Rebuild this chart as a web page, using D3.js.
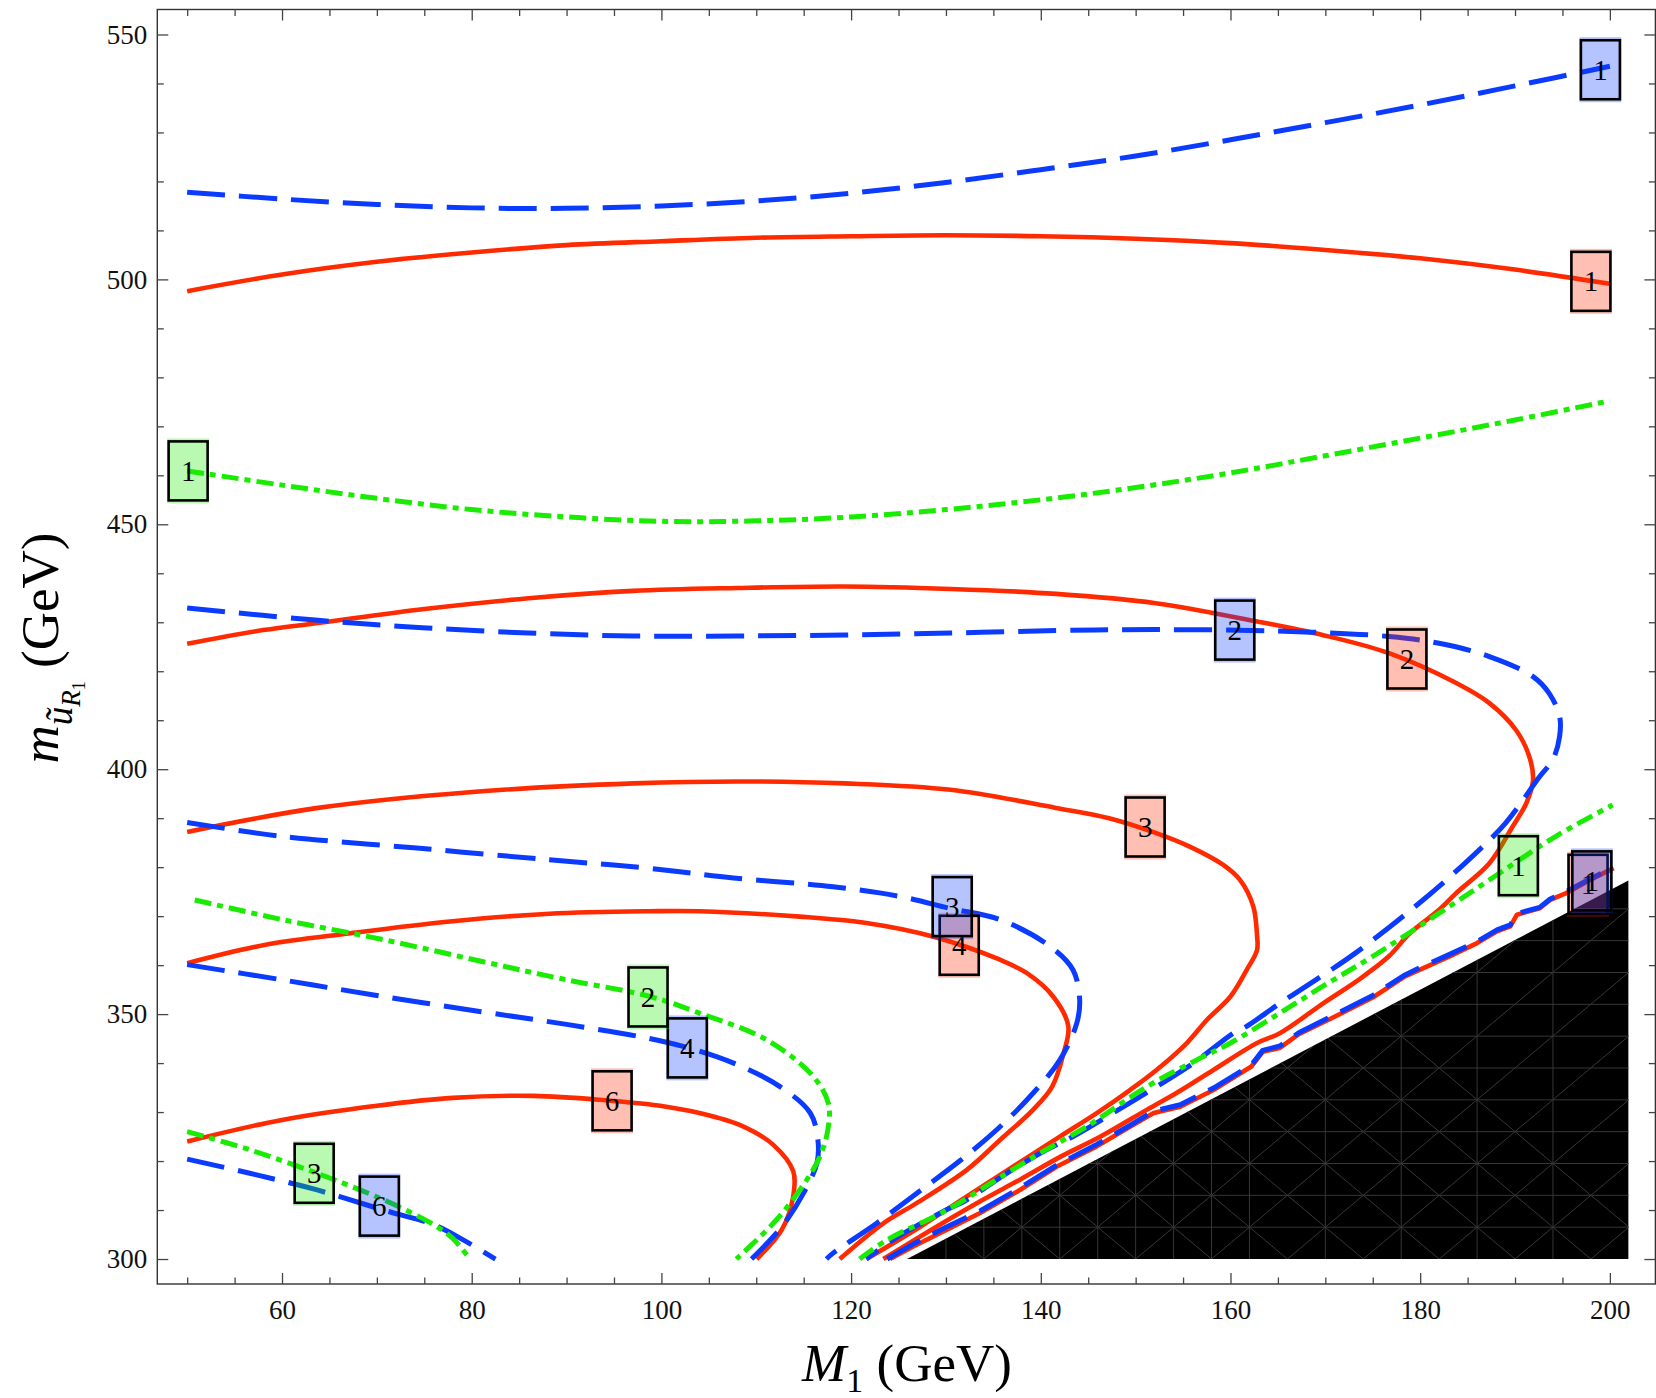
<!DOCTYPE html>
<html><head><meta charset="utf-8">
<script src="https://cdn.jsdelivr.net/npm/d3@7"></script>
<style>
body{margin:0;background:#fff;}
svg{display:block;}
text{font-family:"Liberation Serif","Times New Roman",serif;}
</style>
</head><body>
<svg id="chart" width="1656" height="1398"></svg>
<script>
// ---------- data (M1 [GeV], m_uR1 [GeV]) ----------
const xMajorTicks = [60,80,100,120,140,160,180,200];
const yMajorTicks = [300,350,400,450,500,550];

const red1Top = [[50,497.6],[60,501],[70,503.6],[80,505.5],[90,507],[100,507.8],[110,508.5],[120,508.8],[130,509],[140,508.8],[150,508.3],[160,507.4],[170,506],[180,504.3],[190,502],[200,499.1]];
const red1Low = [[124.1,300],[126.6,302.6],[130.1,306],[133.6,309.4],[137.8,314.1],[141.7,318.9],[145.9,323],[149.4,327],[151.9,329.8],[154.7,331.1],[158.2,334.5],[162.2,339.3],[163.4,342.3],[165.2,343.1],[167.2,345.9],[170.6,349.1],[175,353.4],[178.4,357.7],[180.1,359.2],[183.1,361.8],[186,364.5],[188.1,366.9],[189.5,367.9],[190.2,370.3],[192.6,371.6],[193.7,373.3],[195.4,374.7],[197.9,377.4],[200.4,379.8]];
const red2 = [[50,425.6],[58,428.4],[64,429.9],[75,432.7],[86,434.9],[97,436.4],[108,437],[119.3,437.3],[130.5,436.8],[141.6,435.8],[152.1,433.9],[162.7,430.2],[169.7,427.4],[176.7,423.7],[183.8,417.6],[187.3,413.5],[190.1,408],[191.5,402.6],[191.9,397.8],[191.2,393.1],[189.75,388.3],[187.3,380.8],[183.8,374.7],[182,371.3],[178.9,366.5],[176.7,361.8],[173.5,357],[170,352.5],[165.2,346.1],[162.8,344.1],[158.2,338.6],[154.3,333.9],[151.2,330.5],[146.3,325],[142.1,320.9],[137.8,316.2],[133.9,312.1],[129,306.6],[123.4,300]];
const red3 = [[50,387.2],[63.8,392.1],[80.4,395.4],[97.1,397.1],[108.2,397.5],[119.3,397.1],[130.5,395.8],[141.6,392.1],[147.2,390],[152.1,387],[155.7,384.2],[159.2,380.5],[161,377.4],[162.4,372],[162.8,366],[162.8,363.1],[161.7,359],[160,353.6],[157.5,348.8],[155.4,344.1],[152.2,338.6],[149.4,334.5],[145.9,329.8],[142,325],[137.1,318.9],[132.2,312.8],[127.3,306.6],[121.6,300]];
const red4 = [[50,360.4],[58.4,364.2],[67.2,366.5],[77.7,368.9],[88.2,370.5],[98.8,371],[104,371],[114.6,369.9],[121.6,368.6],[128.7,365.8],[135.7,361.1],[138.5,358.4],[141.3,353.6],[142.9,347.5],[142.4,342],[141.2,335.2],[139.2,330.5],[135.7,324.3],[132.2,318.2],[126.9,311.4],[123.4,307.3],[118.8,300]];
const red6 = [[50,324.0],[60,328.4],[70,331.3],[78,332.9],[86.5,333.3],[93.5,332.5],[100.5,331.1],[104,329.8],[108.6,327.1],[111.8,323.3],[113.9,317.9],[113.9,312.8],[112.7,306],[110.05,300]];

const blue1Top = [[50,517.8],[60,516.4],[70,515.3],[80,514.6],[90,514.5],[100,515],[110,516],[120,517.6],[130,519.8],[140,522.4],[150,525.2],[160,528.5],[170,532],[180,535.6],[190,539.5],[200,543.5]];
const blue1Low = [[123.8,300],[126.5,303],[130,306.5],[133.6,309.8],[137.8,314.5],[141.7,319.2],[145.9,323.4],[149.4,327.3],[151.9,330.2],[154.7,331.5],[158.2,334.9],[162.2,339.6],[163.4,342.6],[165.2,343.5],[167.2,346.2],[170.6,349.5],[175,353.8],[178.4,358],[180.1,359.6],[183.1,362.2],[186,364.8],[188.1,367.2],[189.5,368.2],[190.2,370.5],[192.6,371.8],[193.7,373.5],[195.4,375],[197.9,377.6],[200,379.6]];
const blue2 = [[50,432.9],[63.8,430.4],[74.8,428.9],[86,427.8],[97,427.2],[108,427.2],[119.3,427.4],[130.5,427.8],[141.6,428.3],[152,428.5],[165,428.2],[176.7,427.1],[182,425.7],[187.3,423],[191.9,418.9],[193.6,415.5],[194.7,410.8],[194.7,406.7],[194,402],[192.6,398.5],[189,389],[185.5,382.2],[180.3,373.3],[173.2,362.5],[169,357],[165.2,352.2],[161.7,347.5],[160.3,346.1],[156.1,340],[152.2,335.2],[147.6,329.8],[143.4,325],[140.6,322.3],[136.4,317.5],[132.2,312.1],[129.4,309.4],[124.4,303.9],[121.6,300]];
const blue3 = [[50,389.1],[60,386.3],[74.2,383.9],[88.2,381.5],[98,379.9],[107.6,377.8],[118.1,376],[125.2,374],[130.4,371.6],[135.7,369.3],[141,363.8],[143.4,359],[144.1,352.9],[143.8,348.2],[142,340.6],[139.2,333.9],[135.7,327],[131.5,320.1],[126.9,313.4],[122.7,307.3],[118.1,301.2],[117.4,300]];
const blue4 = [[50,360.1],[60,357.0],[70,353.8],[81,350.5],[90,347.9],[98,345.3],[102.3,343.4],[107.6,340],[112.5,335.2],[115.7,329.8],[116.5,324.3],[116.4,319.6],[115,313.5],[112.7,306.6],[109.5,300]];
const blue6 = [[50,320.4],[56.6,317.5],[63.7,314.1],[70.7,310],[76,307],[79.1,303.9],[82.5,300]];

const green1Top = [[50,460.9],[60,458],[70,455.3],[80,453],[90,451.5],[100,450.6],[110,450.7],[120,451.5],[130,453],[140,455],[150,457.5],[160,460.5],[170,464],[180,467.6],[190,471.3],[200,475.2]];
const green1Low = [[120.9,300],[123.8,303.9],[130.1,310],[136.4,317.5],[139.9,321.6],[144.8,327],[151.2,335.2],[156.4,340.6],[160,344.1],[165.2,350.2],[170,356],[175,361.8],[182,370.6],[187.3,377.4],[194.3,386.3],[200.3,392.7]];
const green2 = [[50.8,373.3],[60,369.3],[70.7,365.2],[81.2,360.7],[90,357],[98.8,353.6],[104,350.2],[111.1,344.75],[116,337.3],[117.6,331.8],[117.6,327],[116.7,320.9],[114.6,314.1],[111.8,307.3],[107.9,300]];
const green3 = [[50,326],[56.6,322.3],[63.7,317.5],[70.7,312.1],[76,307],[78,304.2],[79.8,300]];

// excluded (black) region
const regionM1 = [125.9, 201.95, 201.95];
const regionM  = [300, 377.3, 300];

// contour labels
const labelM1   = [198.0, 151.0, 178.6, 131.4, 94.8, 197.7, 199.0, 160.45, 130.66, 102.73, 70.26, 198.1, 50.1, 98.59, 63.39, 190.35];
const labelM    = [499.6, 388.2, 422.5, 364.05, 332.3, 376.5, 542.8, 428.4, 371.95, 343.1, 310.8, 377.2, 460.9, 353.5, 317.5, 380.3];
const labelText = ["1","3","2","4","6","1","1","2","3","4","6","1","1","2","3","1"];
const labelKind = ["r","r","r","r","r","r","b","b","b","b","b","b","g","g","g","g"];

// ---------- styling ----------
const COL = {r:"#ff2a00", b:"#0b3bff", g:"#19ec00"};
const svg = d3.select("#chart");
const x = d3.scaleLinear().domain([46.85,204.8]).range([157.3,1655.4]);
const y = d3.scaleLinear().domain([294.9,555.1]).range([1284,9.5]);

svg.append("defs").append("clipPath").attr("id","plotclip")
  .append("rect").attr("x",x(46.85)).attr("y",y(555.1)).attr("width",x(204.8)-x(46.85)).attr("height",y(294.9)-y(555.1));
const regionPts = regionM1.map((v,i)=>[x(v),y(regionM[i])]);
svg.select("defs").append("clipPath").attr("id","regclip")
  .append("polygon").attr("points",regionPts.map(p=>p.join(",")).join(" "));

const plot = svg.append("g").attr("clip-path","url(#plotclip)");

// black region + faint mesh
plot.append("polygon").attr("points",regionPts.map(p=>p.join(",")).join(" ")).attr("fill","#000");
const mesh = plot.append("g").attr("clip-path","url(#regclip)").attr("stroke","#363636").attr("stroke-width",1).attr("fill","none");
const meshV = [130,134,138,142,146,150,154,158,162,170,178,186,194];
const meshH = [306.5,313,319.5,326,332.5,339,345.5,352,358.5,365,371.5];
meshV.forEach(v=>mesh.append("line").attr("x1",x(v)).attr("x2",x(v)).attr("y1",y(300)).attr("y2",y(380)));
meshH.forEach(v=>mesh.append("line").attr("x1",x(120)).attr("x2",x(203)).attr("y1",y(v)).attr("y2",y(v)));
d3.range(70,212,8).forEach(v=>{
  mesh.append("line").attr("x1",x(v)).attr("y1",y(300)).attr("x2",x(v+49.2)).attr("y2",y(380));
  mesh.append("line").attr("x1",x(v)).attr("y1",y(300)).attr("x2",x(v-49.2)).attr("y2",y(380));
});

// contour lines
const smooth = d3.line().x(d=>x(d[0])).y(d=>y(d[1])).curve(d3.curveCatmullRom.alpha(0.5));
const jagged = d3.line().x(d=>x(d[0])).y(d=>y(d[1]));
function draw(data,kind,gen){
  const p = plot.append("path").attr("d",(gen||smooth)(data)).attr("fill","none").attr("stroke",COL[kind]).attr("stroke-linejoin","round");
  if(kind==="r") p.attr("stroke-width",4.6);
  if(kind==="b") p.attr("stroke-width",5).attr("stroke-dasharray","38,14");
  if(kind==="g") p.attr("stroke-width",5).attr("stroke-dasharray","17,6,6,6");
}
draw(red1Top,"r"); draw(red1Low,"r",jagged); draw(red2,"r"); draw(red3,"r"); draw(red4,"r"); draw(red6,"r");
draw(blue1Top,"b"); draw(blue1Low,"b",jagged); draw(blue2,"b"); draw(blue3,"b"); draw(blue4,"b"); draw(blue6,"b");
draw(green1Top,"g"); draw(green1Low,"g"); draw(green2,"g"); draw(green3,"g");

// labels
const lab = svg.append("g");
labelM1.forEach((v,i)=>{
  const cx = x(v), cy = y(labelM[i]);
  const g = lab.append("g");
  g.append("rect").attr("x",cx-21).attr("y",cy-32.5).attr("width",42).attr("height",65)
    .attr("fill",COL[labelKind[i]]).attr("fill-opacity",0.3);
  g.append("rect").attr("x",cx-19.5).attr("y",cy-29.5).attr("width",39).attr("height",59)
    .attr("fill","none").attr("stroke","#000").attr("stroke-width",2.6);
  g.append("text").attr("x",cx).attr("y",cy).attr("dy","0.35em").attr("text-anchor","middle")
    .attr("font-size",29).attr("fill","#000").text(labelText[i]);
});

// frame
svg.append("rect").attr("x",x(46.85)).attr("y",y(555.1)).attr("width",x(204.8)-x(46.85)).attr("height",y(294.9)-y(555.1))
  .attr("fill","none").attr("stroke","#333").attr("stroke-width",1.4);

// axes
const xMinor = d3.range(50,205,5).filter(v=>!xMajorTicks.includes(v));
const yMinor = d3.range(300,551,10).filter(v=>!yMajorTicks.includes(v));
function styleAxis(g){ g.select(".domain").remove(); g.selectAll("line").attr("stroke","#444").attr("stroke-width",1.3);
  g.selectAll("text").attr("font-size",27).attr("fill","#111").style("font-family","'Liberation Serif','Times New Roman',serif"); }
const yb = y(294.9), yt = y(555.1), xl = x(46.85), xr = x(204.8);
svg.append("g").attr("transform",`translate(0,${yb})`).call(d3.axisBottom(x).tickValues(xMajorTicks).tickSize(-11).tickPadding(16).tickFormat(d3.format("d"))).call(styleAxis);
svg.append("g").attr("transform",`translate(0,${yb})`).call(d3.axisBottom(x).tickValues(xMinor).tickSize(-6.5).tickFormat("")).call(styleAxis);
svg.append("g").attr("transform",`translate(0,${yt})`).call(d3.axisTop(x).tickValues(xMajorTicks).tickSize(-11).tickFormat("")).call(styleAxis);
svg.append("g").attr("transform",`translate(0,${yt})`).call(d3.axisTop(x).tickValues(xMinor).tickSize(-6.5).tickFormat("")).call(styleAxis);
svg.append("g").attr("transform",`translate(${xl},0)`).call(d3.axisLeft(y).tickValues(yMajorTicks).tickSize(-11).tickPadding(10).tickFormat(d3.format("d"))).call(styleAxis);
svg.append("g").attr("transform",`translate(${xl},0)`).call(d3.axisLeft(y).tickValues(yMinor).tickSize(-6.5).tickFormat("")).call(styleAxis);
svg.append("g").attr("transform",`translate(${xr},0)`).call(d3.axisRight(y).tickValues(yMajorTicks).tickSize(-11).tickFormat("")).call(styleAxis);
svg.append("g").attr("transform",`translate(${xr},0)`).call(d3.axisRight(y).tickValues(yMinor).tickSize(-6.5).tickFormat("")).call(styleAxis);

// axis titles
const xt = svg.append("text").attr("x",907).attr("y",1381).attr("text-anchor","middle").attr("font-size",53).attr("fill","#000");
xt.append("tspan").attr("font-style","italic").text("M");
xt.append("tspan").attr("font-size",34).attr("dy",11).text("1");
xt.append("tspan").attr("dy",-11).text(" (GeV)");

const ytl = svg.append("text").attr("transform","translate(58,648) rotate(-90)").attr("text-anchor","middle").attr("font-size",53).attr("fill","#000");
ytl.append("tspan").attr("font-style","italic").text("m");
ytl.append("tspan").attr("font-style","italic").attr("font-size",37).attr("dy",14).text("ũ");
ytl.append("tspan").attr("font-style","italic").attr("font-size",27).attr("dy",8).text("R");
ytl.append("tspan").attr("font-size",18).attr("dy",5).text("1");
ytl.append("tspan").attr("dy",-27).text(" (GeV)");
</script>
</body></html>
